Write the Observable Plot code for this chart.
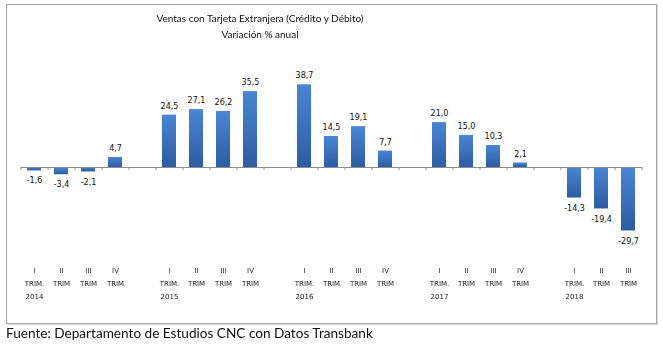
<!DOCTYPE html>
<html>
<head>
<meta charset="utf-8">
<script src="https://cdn.jsdelivr.net/npm/d3@7"></script>
<script src="https://cdn.jsdelivr.net/npm/@observablehq/plot@0.6"></script>
<style>
  html, body { margin: 0; padding: 0; background: #fff; }
  #wrap { position: relative; width: 663px; height: 346px; overflow: hidden; }
  #chart { position: absolute; left: 0; top: 0; }
  #frame { position: absolute; left: 6px; top: 4px; width: 649px; height: 318px; border: 1px solid #a6a6a6; box-shadow: 1px 1px 1px #d8d8d8; pointer-events: none; }
  .title { position: absolute; left: 0; width: 520px; text-align: center; font-family: Lato, sans-serif; font-size: 10px; color: #111; white-space: nowrap; }
  #caption { position: absolute; left: 6px; top: 325px; font-family: Lato, sans-serif; font-size: 13.6px; color: #111; white-space: nowrap; }
  .smooth { opacity: 0.995; will-change: transform; }
</style>
</head>
<body>
<div id="wrap">
  <div id="chart"></div>
  <div id="frame"></div>
  <div class="title" style="top:12px">Ventas con Tarjeta Extranjera (Crédito y Débito)</div>
  <div class="title" style="top:28px">Variación % anual</div>
  <div id="caption">Fuente: Departamento de Estudios CNC con Datos Transbank</div>
</div>
<script>
const periods = [
  "2014 I", "2014 II", "2014 III", "2014 IV", "gap 2014",
  "2015 I", "2015 II", "2015 III", "2015 IV", "gap 2015",
  "2016 I", "2016 II", "2016 III", "2016 IV", "gap 2016",
  "2017 I", "2017 II", "2017 III", "2017 IV", "gap 2017",
  "2018 I", "2018 II", "2018 III"
];
const values = [
  -1.6, -3.4, -2.1, 4.7, null,
  24.5, 27.1, 26.2, 35.5, null,
  38.7, 14.5, 19.1, 7.7, null,
  21.0, 15.0, 10.3, 2.1, null,
  -14.3, -19.4, -29.7
];
const tickLabels = [
  "I\nTRIM.\n2014", "II\nTRIM", "III\nTRIM", "IV\nTRIM", "",
  "I\nTRIM.\n2015", "II\nTRIM", "III\nTRIM", "IV\nTRIM", "",
  "I\nTRIM.\n2016", "II\nTRIM", "III\nTRIM", "IV\nTRIM", "",
  "I\nTRIM.\n2017", "II\nTRIM", "III\nTRIM", "IV\nTRIM", "",
  "I\nTRIM.\n2018", "II\nTRIM", "III\nTRIM"
];

const rows = periods.map((p, i) => ({period: p, value: values[i], label: tickLabels[i]}));
const bars = rows.filter(d => d.value != null);
const fmt = v => v.toFixed(1).replace(".", ",");

const chart = Plot.plot({
  width: 663,
  height: 346,
  marginLeft: 21,
  marginRight: 21,
  marginTop: 81.5,
  marginBottom: 114.9,
  style: {background: "transparent", overflow: "visible"},
  x: {domain: periods, paddingInner: 0.48, paddingOuter: 0.24, axis: null},
  y: {domain: [-30, 40], axis: null},
  marks: [
    Plot.barY(bars, {x: "period", y: "value", fill: "url(#barGrad)"}),
    Plot.ruleY([0], {stroke: "#8c8c8c", strokeWidth: 1}),
    Plot.ruleX(rows, {x: "period", y1: 0, y2: 0, dx: -13.5, insetBottom: -3, stroke: "#8c8c8c"}),
    Plot.ruleX(rows.slice(-1), {x: "period", y1: 0, y2: 0, dx: 13.5, insetBottom: -3, stroke: "#8c8c8c"}),
    Plot.text(bars.filter(d => d.value >= 0), {x: "period", y: "value", text: d => fmt(d.value), dy: -9, fontFamily: "DejaVu Sans", fontSize: 8, fill: "#111"}),
    Plot.text(bars.filter(d => d.value < 0), {x: "period", y: "value", text: d => fmt(d.value), dy: 10, fontFamily: "DejaVu Sans", fontSize: 8, fill: "#111"}),
    Plot.text(rows, {x: "period", text: "label", frameAnchor: "bottom", lineAnchor: "top", dy: 31.7, lineHeight: 1.86, fontFamily: "DejaVu Sans", fontSize: 7, fill: "#222", className: "smooth"})
  ]
});

const defs = d3.create("svg:defs");
const g = defs.append("linearGradient").attr("id", "barGrad").attr("x1", 0).attr("y1", 0).attr("x2", 0).attr("y2", 1);
g.append("stop").attr("offset", "0%").attr("stop-color", "#4a86d4");
g.append("stop").attr("offset", "100%").attr("stop-color", "#2d5ca2");
chart.insertBefore(defs.node(), chart.firstChild);

document.getElementById("chart").appendChild(chart);
</script>
</body>
</html>
